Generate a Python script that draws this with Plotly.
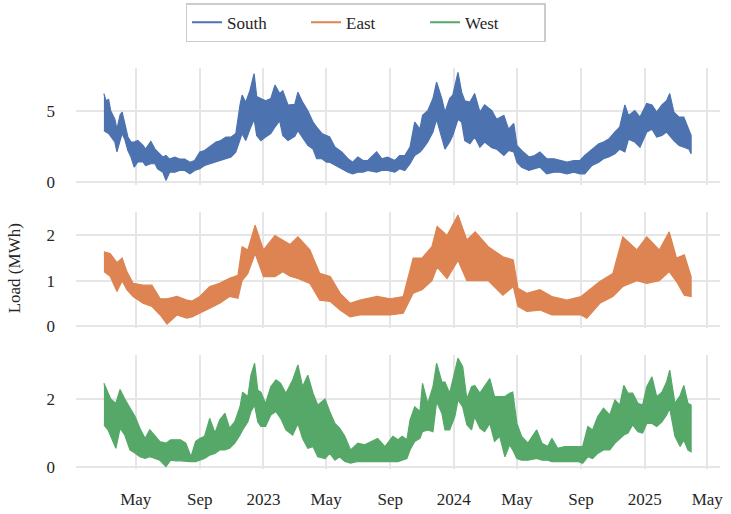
import plotly.graph_objects as go
from plotly.subplots import make_subplots

# ---------------- South ----------------
south_dates = [
    "2022-03-01", "2022-03-05", "2022-03-10", "2022-03-14", "2022-03-22", "2022-03-26",
    "2022-04-01", "2022-04-05", "2022-04-10", "2022-04-16", "2022-04-22", "2022-04-28",
    "2022-05-05", "2022-05-15", "2022-05-20", "2022-05-30", "2022-06-07", "2022-06-12",
    "2022-06-22", "2022-06-28", "2022-07-05", "2022-07-15", "2022-07-24", "2022-08-03",
    "2022-08-13", "2022-08-22", "2022-09-01", "2022-09-10", "2022-09-22", "2022-10-02",
    "2022-10-11", "2022-10-21", "2022-10-31", "2022-11-09", "2022-11-17", "2022-11-21",
    "2022-11-28", "2022-12-06", "2022-12-14", "2022-12-19", "2022-12-27", "2023-01-05",
    "2023-01-15", "2023-01-23", "2023-02-01", "2023-02-07", "2023-02-17", "2023-03-02",
    "2023-03-08", "2023-03-17", "2023-03-27", "2023-04-06", "2023-04-13", "2023-04-23",
    "2023-05-02", "2023-05-08", "2023-05-18", "2023-05-31", "2023-06-12", "2023-06-21",
    "2023-07-01", "2023-07-11", "2023-07-20", "2023-08-06", "2023-08-16", "2023-08-27",
    "2023-09-10", "2023-09-19", "2023-09-29", "2023-10-09", "2023-10-18", "2023-10-28",
    "2023-11-02", "2023-11-12", "2023-11-22", "2023-11-29", "2023-12-09", "2023-12-15",
    "2023-12-24", "2023-12-30", "2024-01-09", "2024-01-16", "2024-01-22", "2024-02-01",
    "2024-02-10", "2024-02-20", "2024-02-29", "2024-03-14", "2024-03-23", "2024-04-06",
    "2024-04-15", "2024-04-25", "2024-05-01", "2024-05-10", "2024-05-24", "2024-06-04",
    "2024-06-14", "2024-06-27", "2024-07-11", "2024-07-22", "2024-08-05", "2024-08-18",
    "2024-08-30", "2024-09-08", "2024-09-22", "2024-10-05", "2024-10-14", "2024-10-24",
    "2024-11-05", "2024-11-14", "2024-11-24", "2024-12-01", "2024-12-13", "2024-12-23",
    "2025-01-05", "2025-01-15", "2025-01-24", "2025-02-03", "2025-02-12", "2025-02-18",
    "2025-02-26", "2025-03-08", "2025-03-17", "2025-03-27", "2025-03-31",
]
south_high = [
    6.2, 5.7, 5.8, 5.0, 4.4, 3.7, 4.7, 4.9, 4.1, 3.15, 2.8, 2.8,
    2.9, 2.56, 2.3, 2.84, 2.3, 2.1, 1.74, 1.85, 1.6, 1.74, 1.6, 1.6,
    1.38, 1.5, 2.1, 2.2, 2.56, 2.8, 2.9, 3.15, 3.15, 3.4, 5.4, 6.1,
    5.6, 6.4, 7.6, 6.0, 5.85, 5.7, 5.85, 6.8, 6.2, 6.4, 5.4, 5.45,
    6.3, 5.6, 5.0, 4.2, 3.85, 3.4, 3.26, 3.15, 2.44, 2.1, 1.62, 1.38,
    1.74, 1.5, 1.5, 2.1, 1.62, 1.74, 1.5, 1.85, 1.85, 2.44, 4.2, 3.7,
    4.67, 5.0, 5.85, 7.0, 5.85, 4.9, 5.85, 6.1, 7.7, 6.3, 5.7, 5.6,
    6.2, 4.9, 5.4, 5.0, 4.4, 4.67, 3.7, 4.1, 2.56, 2.2, 1.74, 1.85,
    2.1, 1.62, 1.62, 1.5, 1.38, 1.5, 1.5, 1.85, 2.3, 2.68, 2.8, 3.0,
    3.5, 3.85, 5.4, 4.67, 5.0, 4.55, 5.5, 5.4, 4.9, 5.4, 5.7, 6.2,
    4.9, 4.55, 4.55, 3.7, 3.26,
]
south_low = [
    3.6, 3.5, 3.4, 3.15, 2.8, 2.1, 2.9, 3.4, 3.0, 2.2, 1.74, 1.03,
    1.4, 1.4, 1.15, 1.27, 1.27, 0.92, 0.68, 0.1, 0.68, 0.68, 0.8, 0.8,
    0.56, 0.8, 0.92, 1.15, 1.27, 1.4, 1.5, 1.62, 1.74, 2.1, 3.0, 3.4,
    2.9, 3.7, 4.4, 3.26, 2.9, 3.15, 3.4, 3.85, 4.3, 3.26, 2.9, 3.2,
    3.6, 3.15, 2.56, 2.3, 1.62, 1.62, 1.38, 1.38, 1.15, 0.92, 0.68, 0.56,
    0.68, 0.68, 0.8, 0.68, 0.8, 0.8, 0.68, 0.92, 0.8, 1.27, 1.85, 2.1,
    2.3, 2.8, 3.5, 4.4, 3.15, 2.3, 2.8, 3.26, 4.4, 4.2, 2.9, 2.68,
    3.15, 2.44, 2.8, 2.4, 2.3, 1.85, 2.2, 2.1, 1.38, 1.03, 0.8, 0.92,
    1.03, 0.56, 0.68, 0.68, 0.56, 0.68, 0.56, 0.56, 1.15, 1.38, 1.62, 1.74,
    1.97, 2.3, 2.1, 3.0, 2.8, 2.44, 3.5, 3.7, 3.15, 3.26, 3.5, 3.26,
    2.9, 2.56, 2.44, 2.3, 1.97,
]

# ---------------- East ----------------
east_dates = [
    "2022-03-01", "2022-03-13", "2022-03-26", "2022-04-05", "2022-04-14", "2022-04-26",
    "2022-05-15", "2022-06-01", "2022-06-17", "2022-06-30", "2022-07-19", "2022-08-07",
    "2022-08-17", "2022-09-01", "2022-09-20", "2022-10-09", "2022-10-28", "2022-11-13",
    "2022-11-21", "2022-12-02", "2022-12-16", "2023-01-01", "2023-01-23", "2023-02-07",
    "2023-02-21", "2023-03-08", "2023-03-31", "2023-04-19", "2023-05-09", "2023-05-28",
    "2023-06-16", "2023-07-05", "2023-08-07", "2023-09-01", "2023-09-26", "2023-10-15",
    "2023-11-01", "2023-11-20", "2023-11-30", "2023-12-19", "2024-01-09", "2024-01-26",
    "2024-02-11", "2024-03-07", "2024-04-04", "2024-04-24", "2024-05-03", "2024-05-20",
    "2024-06-14", "2024-07-07", "2024-08-05", "2024-09-01", "2024-09-12", "2024-10-07",
    "2024-11-01", "2024-11-20", "2024-12-17", "2025-01-05", "2025-01-29", "2025-02-17",
    "2025-03-03", "2025-03-18", "2025-03-31",
]
east_high = [1.64, 1.6, 1.4, 1.5, 1.2, 0.94, 0.9, 0.9, 0.6, 0.6, 0.65, 0.57, 0.55, 0.65,
             0.87, 0.94, 1.05, 1.12, 1.75, 1.68, 2.23, 1.68, 2.0, 1.9, 1.8, 1.97, 1.68, 1.16,
             1.09, 0.72, 0.5, 0.57, 0.65, 0.6, 0.65, 1.5, 1.5, 1.75, 2.2, 2.0, 2.45, 1.9, 2.08,
             1.75, 1.53, 1.46, 0.83, 0.72, 0.8, 0.65, 0.57, 0.65, 0.75, 0.98, 1.16, 1.97, 1.68,
             1.97, 1.68, 2.08, 1.5, 1.57, 1.09]
east_low = [1.2, 1.1, 0.76, 1.0, 0.8, 0.65, 0.5, 0.43, 0.24, 0.04, 0.24, 0.17, 0.2, 0.28,
            0.39, 0.5, 0.65, 0.61, 1.0, 1.16, 1.6, 1.09, 1.09, 1.2, 1.1, 1.05, 0.94, 0.57,
            0.54, 0.35, 0.2, 0.24, 0.24, 0.24, 0.28, 0.72, 0.8, 1.0, 1.3, 1.05, 1.45, 1.0, 1.0,
            1.0, 0.68, 0.87, 0.43, 0.32, 0.35, 0.24, 0.24, 0.24, 0.17, 0.5, 0.65, 0.87, 1.0,
            0.94, 1.0, 1.2, 0.98, 0.68, 0.65]

# ---------------- West ----------------
west_dates = [
    "2022-03-01", "2022-03-09", "2022-03-14", "2022-03-24", "2022-04-01", "2022-04-10",
    "2022-04-20", "2022-04-30", "2022-05-09", "2022-05-19", "2022-05-28", "2022-06-07",
    "2022-06-16", "2022-06-28", "2022-07-07", "2022-07-17", "2022-07-26", "2022-08-05",
    "2022-08-15", "2022-08-24", "2022-09-01", "2022-09-10", "2022-09-20", "2022-09-30",
    "2022-10-09", "2022-10-19", "2022-10-28", "2022-11-07", "2022-11-17", "2022-11-22",
    "2022-12-02", "2022-12-08", "2022-12-15", "2022-12-21", "2022-12-27", "2023-01-05",
    "2023-01-15", "2023-01-25", "2023-02-03", "2023-02-13", "2023-02-26", "2023-03-08",
    "2023-03-17", "2023-03-27", "2023-04-06", "2023-04-15", "2023-04-29", "2023-05-08",
    "2023-05-18", "2023-05-27", "2023-06-06", "2023-06-17", "2023-07-01", "2023-07-14",
    "2023-07-26", "2023-08-08", "2023-08-22", "2023-09-06", "2023-09-16", "2023-09-24",
    "2023-10-03", "2023-10-09", "2023-10-18", "2023-10-28", "2023-11-02", "2023-11-12",
    "2023-11-22", "2023-11-29", "2023-12-09", "2023-12-15", "2023-12-24", "2024-01-03",
    "2024-01-09", "2024-01-18", "2024-01-26", "2024-02-04", "2024-02-10", "2024-02-20",
    "2024-02-29", "2024-03-10", "2024-03-19", "2024-03-29", "2024-04-08", "2024-04-17",
    "2024-04-23", "2024-05-01", "2024-05-10", "2024-05-22", "2024-06-08", "2024-06-18",
    "2024-06-29", "2024-07-07", "2024-07-18", "2024-08-01", "2024-08-14", "2024-08-26",
    "2024-09-04", "2024-09-14", "2024-09-23", "2024-10-03", "2024-10-14", "2024-10-26",
    "2024-11-05", "2024-11-14", "2024-11-22", "2024-11-30", "2024-12-09", "2024-12-19",
    "2024-12-28", "2025-01-05", "2025-01-15", "2025-01-24", "2025-02-03", "2025-02-12",
    "2025-02-18", "2025-02-28", "2025-03-10", "2025-03-17", "2025-03-25", "2025-03-31",
]
west_high = [
    2.46, 2.2, 2.0, 1.87, 2.28, 2.0, 1.73, 1.48, 1.14, 0.84, 1.09, 0.9,
    0.75, 0.7, 0.8, 0.8, 0.8, 0.7, 0.3, 0.75, 0.84, 0.9, 1.43, 1.0,
    1.38, 1.58, 1.14, 1.33, 1.77, 2.2, 2.07, 2.7, 3.05, 2.26, 2.2, 1.87,
    2.36, 2.56, 2.46, 2.17, 2.56, 3.0, 2.36, 2.7, 2.17, 1.82, 2.0, 1.63,
    1.28, 1.14, 0.9, 0.5, 0.7, 0.65, 0.75, 0.84, 0.6, 0.9, 0.8, 0.9,
    0.8, 1.38, 1.77, 1.63, 2.46, 1.87, 2.36, 3.05, 2.5, 2.5, 2.17, 2.85,
    3.2, 2.95, 2.0, 2.36, 2.4, 2.17, 2.36, 2.6, 2.07, 2.07, 2.07, 2.17,
    2.2, 1.28, 0.9, 0.7, 1.09, 0.7, 0.6, 0.84, 0.55, 0.6, 0.6, 0.6,
    0.6, 1.19, 1.09, 1.48, 1.73, 1.53, 1.97, 1.82, 2.4, 2.17, 2.17, 1.87,
    1.82, 2.36, 2.65, 2.07, 2.2, 2.5, 2.85, 1.87, 2.1, 2.4, 1.87, 1.82,
]
west_low = [
    1.24, 1.09, 0.9, 0.55, 1.14, 0.94, 0.5, 0.4, 0.3, 0.25, 0.3, 0.25,
    0.2, 0.01, 0.2, 0.18, 0.18, 0.18, 0.16, 0.16, 0.2, 0.25, 0.35, 0.4,
    0.5, 0.5, 0.55, 0.7, 0.94, 1.09, 1.33, 1.63, 1.82, 1.33, 1.19, 1.19,
    1.53, 1.63, 1.43, 1.09, 0.94, 1.28, 0.84, 0.55, 0.6, 0.3, 0.25, 0.4,
    0.2, 0.3, 0.16, 0.11, 0.16, 0.16, 0.16, 0.16, 0.16, 0.16, 0.16, 0.2,
    0.25, 0.5, 0.75, 0.84, 1.04, 1.09, 1.04, 1.92, 1.58, 1.09, 1.09, 1.48,
    1.97, 1.77, 1.24, 1.09, 1.48, 1.14, 1.04, 1.28, 0.75, 0.9, 0.3, 0.65,
    0.5, 0.25, 0.2, 0.2, 0.25, 0.2, 0.2, 0.16, 0.16, 0.16, 0.16, 0.16,
    0.11, 0.3, 0.25, 0.4, 0.5, 0.5, 0.7, 0.84, 0.94, 1.0, 1.24, 1.04,
    1.0, 1.28, 1.28, 1.19, 1.33, 1.53, 1.73, 0.9, 0.6, 0.8, 0.5, 0.45,
]

series_names = ["South", "East", "West"]
colors = ["#4C72B0", "#DD8452", "#55A868"]
tick_dates = ["2022-05-01", "2022-09-01", "2023-01-01", "2023-05-01", "2023-09-01",
              "2024-01-01", "2024-05-01", "2024-09-01", "2025-01-01", "2025-05-01"]
tick_labels = ["May", "Sep", "2023", "May", "Sep", "2024", "May", "Sep", "2025", "May"]
y_ticks = [[0, 5], [0, 1, 2], [0, 2]]
y_ranges = [[-0.23, 8.0], [-0.044, 2.52], [-0.06, 3.29]]

FONT = "Liberation Serif"
TXT = "#262626"
fig = make_subplots(rows=3, cols=1, shared_xaxes=True)

all_dates = [south_dates, east_dates, west_dates]
highs = [south_high, east_high, west_high]
lows = [south_low, east_low, west_low]
for i in range(3):
    xs = all_dates[i] + all_dates[i][::-1]
    ys = highs[i] + lows[i][::-1]
    fig.add_trace(go.Scatter(x=xs, y=ys, mode="lines", fill="toself",
                             fillcolor=colors[i], line=dict(color=colors[i], width=1.2),
                             showlegend=False, hoverinfo="skip"), row=i + 1, col=1)
for i in range(3):
    fig.add_trace(go.Scatter(x=[None], y=[None], mode="lines", name=series_names[i],
                             line=dict(color=colors[i], width=2)), row=1, col=1)

domains = [[0.708, 1.0], [0.352, 0.641], [0.0, 0.284]]
for i in range(3):
    yk = "yaxis" if i == 0 else f"yaxis{i+1}"
    xk = "xaxis" if i == 0 else f"xaxis{i+1}"
    fig.layout[yk].update(domain=domains[i], range=y_ranges[i], tickvals=y_ticks[i],
                          showgrid=True, gridcolor="#e6e6e6", gridwidth=1.5,
                          zeroline=False, showline=False, ticks="", automargin=False,
                          ticklabelstandoff=20,
                          tickfont=dict(family=FONT, size=17, color=TXT))
    fig.layout[xk].update(range=["2022-01-06 12:00", "2025-05-25 10:00"],
                          tickvals=tick_dates, ticktext=tick_labels,
                          showticklabels=(i == 2), showgrid=True, gridcolor="#e6e6e6",
                          gridwidth=1.5, zeroline=False, showline=False, ticks="",
                          automargin=False, ticklabelstandoff=18,
                          tickfont=dict(family=FONT, size=17, color=TXT))

fig.add_annotation(text="Load (MWh)", xref="paper", yref="paper", x=-0.095, y=0.5,
                   textangle=-90, showarrow=False, xanchor="center", yanchor="middle",
                   font=dict(family=FONT, size=17, color=TXT))

fig.update_layout(
    width=731, height=514,
    margin=dict(l=76, r=11, t=68, b=45, autoexpand=False),
    plot_bgcolor="white", paper_bgcolor="white",
    font=dict(family=FONT, size=17, color=TXT),
    legend=dict(orientation="h", xref="container", yref="container",
                x=0.5, xanchor="center", y=0.994, yanchor="top",
                bordercolor="#cccccc", borderwidth=1.5, bgcolor="white",
                font=dict(family=FONT, size=17, color=TXT),
                itemwidth=30, entrywidth=74),
)

fig.write_html("out.html")
